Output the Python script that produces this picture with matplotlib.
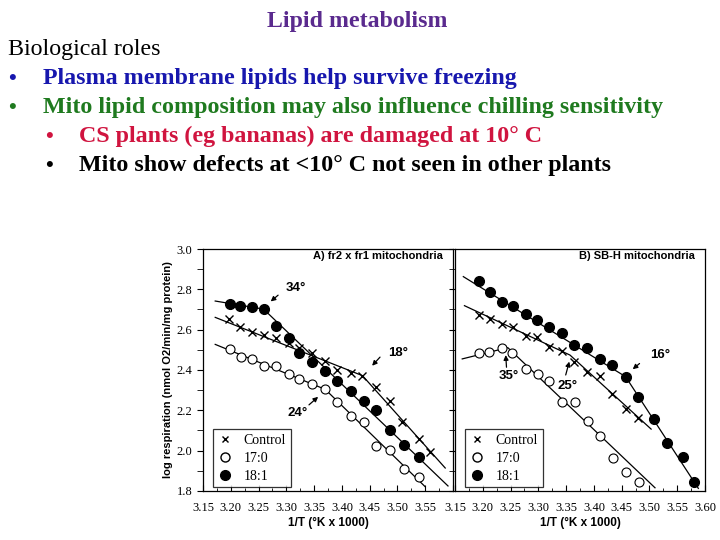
import matplotlib.pyplot as plt
from matplotlib.lines import Line2D

# slide text
title = 'Lipid metabolism'
bullets = [
    (0, 'Biological roles', 'black', False),
    (1, 'Plasma membrane lipids help survive freezing', '#1717AE', True),
    (1, 'Mito lipid composition may also influence chilling sensitivity', '#1F7A1F', True),
    (2, 'CS plants (eg bananas) are damaged at 10° C', '#D0143F', True),
    (2, 'Mito show defects at <10° C not seen in other plants', 'black', True),
]

# panel A: fr2 x fr1 mitochondria
a_ctrl_x = [3.197, 3.217, 3.238, 3.259, 3.281, 3.304, 3.323, 3.346, 3.370, 3.392,
            3.416, 3.437, 3.461, 3.487, 3.509, 3.538, 3.559]
a_ctrl_y = [2.653, 2.615, 2.590, 2.573, 2.557, 2.535, 2.510, 2.483, 2.446, 2.400,
            2.387, 2.372, 2.314, 2.246, 2.141, 2.058, 1.995]
a_170_x = [3.199, 3.218, 3.238, 3.259, 3.281, 3.304, 3.323, 3.346, 3.370, 3.392,
           3.416, 3.439, 3.461, 3.487, 3.512, 3.538]
a_170_y = [2.504, 2.466, 2.455, 2.420, 2.420, 2.379, 2.354, 2.331, 2.304, 2.240,
           2.173, 2.144, 2.025, 2.003, 1.907, 1.868]
a_181_x = [3.199, 3.217, 3.238, 3.259, 3.281, 3.304, 3.323, 3.347, 3.370, 3.392,
           3.416, 3.439, 3.461, 3.487, 3.511, 3.538]
a_181_y = [2.727, 2.717, 2.712, 2.702, 2.620, 2.560, 2.483, 2.441, 2.395, 2.345,
           2.296, 2.248, 2.202, 2.102, 2.028, 1.970]
a_ctrl_fit = ([3.172, 3.437, 3.586], [2.661, 2.372, 1.914])
a_170_fit = ([3.172, 3.370, 3.550], [2.527, 2.304, 1.821])
a_181_fit = ([3.172, 3.259, 3.591], [2.742, 2.702, 1.825])

# panel B: SB-H mitochondria
b_ctrl_x = [3.193, 3.213, 3.234, 3.255, 3.277, 3.298, 3.320, 3.342, 3.365, 3.388,
            3.411, 3.433, 3.457, 3.480]
b_ctrl_y = [2.673, 2.653, 2.628, 2.615, 2.569, 2.565, 2.516, 2.494, 2.438, 2.388,
            2.370, 2.279, 2.207, 2.160]
b_170_x = [3.193, 3.212, 3.234, 3.253, 3.277, 3.299, 3.320, 3.342, 3.366, 3.389,
           3.411, 3.435, 3.458, 3.482]
b_170_y = [2.483, 2.491, 2.511, 2.483, 2.405, 2.379, 2.345, 2.243, 2.243, 2.149,
           2.073, 1.965, 1.893, 1.846]
b_181_x = [3.193, 3.213, 3.234, 3.255, 3.277, 3.298, 3.320, 3.342, 3.365, 3.388,
           3.411, 3.433, 3.457, 3.479, 3.508, 3.531, 3.560, 3.581]
b_181_y = [2.841, 2.788, 2.739, 2.719, 2.678, 2.648, 2.612, 2.582, 2.524, 2.511,
           2.453, 2.425, 2.367, 2.268, 2.155, 2.036, 1.970, 1.846]
b_ctrl_fit = ([3.167, 3.357, 3.503], [2.719, 2.474, 2.107])
b_170_fit = ([3.163, 3.245, 3.510], [2.455, 2.511, 1.816])
b_181_fit = ([3.165, 3.457, 3.588], [2.863, 2.367, 1.813])

# break-point labels: text, text pos, arrow tail, arrow tip
a_notes = [('34°', (3.299, 2.807), (3.289, 2.780), (3.268, 2.731)),
           ('18°', (3.483, 2.484), (3.472, 2.474), (3.451, 2.411)),
           ('24°', (3.303, 2.187), (3.337, 2.218), (3.361, 2.276))]
b_notes = [('35°', (3.229, 2.372), (3.243, 2.400), (3.241, 2.488)),
           ('25°', (3.334, 2.323), (3.348, 2.362), (3.357, 2.455)),
           ('16°', (3.501, 2.474), (3.486, 2.441), (3.466, 2.395))]

x_ticks = [3.15, 3.20, 3.25, 3.30, 3.35, 3.40, 3.45, 3.50, 3.55, 3.60]
y_ticks = [1.8, 2.0, 2.2, 2.4, 2.6, 2.8, 3.0]

W, H = 720, 540
fig = plt.figure(figsize=(7.2, 5.4), dpi=100)

serif = 'Liberation Serif'
sans = 'Liberation Sans'

fig.text(357 / W, 1 - 27 / H, title, ha='center', va='baseline', fontsize=17.2,
         fontweight='bold', family=serif, color='#5A2A8E')

baselines = [55, 84, 113, 142, 171]
bullet_x = {1: 8, 2: 45}
text_x = {0: 8, 1: 43, 2: 79}
for (lvl, txt, col, has_bullet), yb in zip(bullets, baselines):
    weight = 'normal' if lvl == 0 else 'bold'
    fig.text(text_x[lvl] / W, 1 - yb / H, txt, ha='left', va='baseline',
             fontsize=17.3, fontweight=weight, family=serif, color=col)
    if has_bullet:
        fig.text(bullet_x[lvl] / W, 1 - yb / H, '•', ha='left', va='baseline',
                 fontsize=16, fontweight='bold', family=serif, color=col)


def make_panel(left, ctrl, s170, s181, fits, notes, label, show_ylabels):
    ax = fig.add_axes([left / W, 1 - 491 / H, 250 / W, 242 / H])
    ax.set_xlim(3.15, 3.60)
    ax.set_ylim(1.8, 3.0)
    for fx, fy in fits:
        ax.plot(fx, fy, color='black', lw=0.9, zorder=1)
    ax.plot(ctrl[0], ctrl[1], ls='none', marker='x', ms=5.2, mew=1.0, color='black', zorder=3)
    ax.plot(s170[0], s170[1], ls='none', marker='o', ms=6.5, mew=0.8, mfc='white', mec='black', zorder=3)
    ax.plot(s181[0], s181[1], ls='none', marker='o', ms=7, mfc='black', mec='black', zorder=3)

    for txt, tpos, tail, tip in notes:
        ax.text(tpos[0], tpos[1], txt, ha='left', va='center', fontsize=9.5,
                fontweight='bold', family=sans)
        ax.annotate('', xy=tip, xytext=tail,
                    arrowprops=dict(arrowstyle='-|>', lw=0.9, color='black', mutation_scale=7))

    ax.text(3.582, 2.966, label, ha='right', va='center', fontsize=8,
            fontweight='bold', family=sans)

    handles = [Line2D([], [], ls='none', marker='x', ms=5, mew=1.0, color='black'),
               Line2D([], [], ls='none', marker='o', ms=6.5, mfc='white', mec='black'),
               Line2D([], [], ls='none', marker='o', ms=7, mfc='black', mec='black')]
    leg = ax.legend(handles, ['Control', '17:0', '18:1'], loc='lower left',
                    bbox_to_anchor=(0.038, 0.015), borderaxespad=0, frameon=True,
                    fancybox=False, prop={'family': serif, 'size': 10},
                    handlelength=1.1, handletextpad=0.8, labelspacing=0.33,
                    borderpad=0.35)
    leg.get_frame().set_edgecolor('black')
    leg.get_frame().set_linewidth(0.9)

    ax.set_xticks(x_ticks)
    ax.set_xticks([t + 0.025 for t in x_ticks[:-1]], minor=True)
    ax.tick_params(axis='x', which='both', direction='in', labelsize=9, pad=8)
    ax.tick_params(axis='x', which='major', length=4)
    ax.tick_params(axis='x', which='minor', length=2)
    ax.set_xticklabels([f'{t:.2f}' for t in x_ticks], family=serif)
    if show_ylabels:
        ax.xaxis.get_major_ticks()[-1].label1.set_visible(False)
    ax.set_yticks(y_ticks)
    ax.set_yticks([t + 0.1 for t in y_ticks[:-1]], minor=True)
    ax.tick_params(axis='y', which='both', direction='out', length=4, labelsize=9)
    if show_ylabels:
        ax.set_yticklabels([f'{t:.1f}' for t in y_ticks], family=serif)
        ax.set_ylabel('log respiration (nmol O2/min/mg protein)', fontsize=8,
                      fontweight='bold', family=sans, labelpad=3)
    else:
        ax.set_yticklabels([])
    ax.set_xlabel('1/T (°K x 1000)', fontsize=8.5, fontweight='bold', family=sans, labelpad=2)
    for sp in ax.spines.values():
        sp.set_linewidth(0.9)
    return ax


make_panel(203, (a_ctrl_x, a_ctrl_y), (a_170_x, a_170_y), (a_181_x, a_181_y),
           [a_ctrl_fit, a_170_fit, a_181_fit], a_notes, 'A) fr2 x fr1 mitochondria', True)
make_panel(455, (b_ctrl_x, b_ctrl_y), (b_170_x, b_170_y), (b_181_x, b_181_y),
           [b_ctrl_fit, b_170_fit, b_181_fit], b_notes, 'B) SB-H mitochondria', False)

fig.savefig('out.png', dpi=100)
